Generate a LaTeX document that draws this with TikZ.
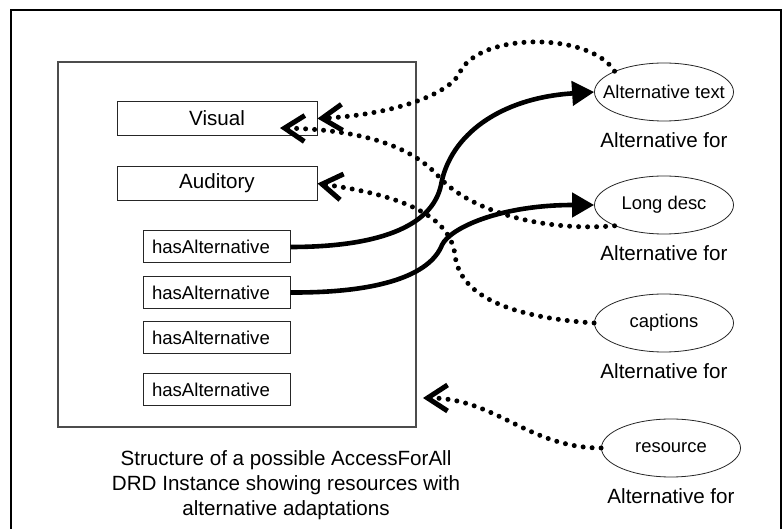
\documentclass[tikz,border=0pt]{standalone}
\usepackage{fontspec}
\setmainfont{Liberation Sans}
\usetikzlibrary{positioning}
\usetikzlibrary{shapes.geometric}
\usetikzlibrary{arrows.meta}

\begin{document}
\begin{tikzpicture}
  [ x=0.5pt, y=-0.5pt,
    cat/.style={draw=black!85, line width=0.5pt, minimum width=100pt,
      minimum height=17pt, inner sep=0pt, font=\fontsize{10.3}{12}\selectfont},
    has/.style={draw=black!85, line width=0.5pt, text width=64.5pt, inner xsep=4.5pt,
      inner ysep=0pt, minimum height=16pt, align=left, font=\fontsize{9.3}{11}\selectfont},
    alt/.style={ellipse, draw=black!85, line width=0.4pt, minimum width=69.5pt,
      minimum height=29pt, inner sep=0pt, font=\fontsize{9.2}{11}\selectfont},
    altfor/.style={inner sep=0pt, font=\fontsize{10.3}{12}\selectfont},
    link/.style={line width=2.3pt, -{Triangle[length=11pt,width=12pt]}},
    altref/.style={line width=2.5pt, line cap=round, dash pattern=on 0pt off 4.5pt,
      -{Straight Barb[length=10pt,width=13pt]}}
  ]
  \useasboundingbox (0,0) rectangle (784,529);
  \draw [line width=1pt] (11,529) |- (781,10) -- (781,529);

  \node (drd) at (237,244.5) [draw=black!70, line width=0.6pt,
    minimum width=179pt, minimum height=182.5pt] {};

  \node (visual)   at (217,118.5) [cat] {Visual};
  \node (auditory) at (217,183.5) [cat] {Auditory};

  \node (has1) at (216.5,247)   [has] {hasAlternative};
  \node (has2) at (216.5,292.5) [has] {hasAlternative};
  \node (has3) at (216.5,338)   [has] {hasAlternative};
  \node (has4) at (216.5,389.5) [has] {hasAlternative};

  \node (altxt)    at (664,92)  [alt] {\makebox[0pt]{Alternative text}};
  \node (longdesc) at (664,205) [alt] {\makebox[0pt]{Long desc}};
  \node (captions) at (664,323) [alt] {\makebox[0pt]{captions}};
  \node (resource) at (671,448) [alt] {\makebox[0pt]{resource}};

  \node (for1) [below=5.5pt of altxt, altfor]    {Alternative for};
  \node (for2) [below=5.5pt of longdesc, altfor] {Alternative for};
  \node (for3) [below=5.5pt of captions, altfor] {Alternative for};
  \node (for4) [below=5.5pt of resource, altfor] {Alternative for};

  \node (caption) at (286,485) [align=center, font=\fontsize{10.3}{12.5}\selectfont]
    {Structure of a possible AccessForAll\\DRD Instance showing resources with\\alternative adaptations};

  \coordinate (vin)  at (280,128);
  \coordinate (rtip) at (423,398);

  \draw [link] (has1.east) .. controls (375,247) and (432,228) .. (441,185)
    .. controls (450,135) and (500,98) .. (altxt.west);
  \draw [link] (has2.east) .. controls (380,293) and (430,275) .. (442,245)
    .. controls (450,228) and (500,205) .. (longdesc.west);

  \draw [altref] (altxt.north west) .. controls (590,32) and (480,32) .. (460,72)
    .. controls (450,95) and (390,115) .. (visual.east);
  \draw [altref] (longdesc.south west) .. controls (540,232) and (470,210) .. (440,178)
    .. controls (420,155) and (380,130) .. (vin);
  \draw [altref] (captions.west) .. controls (520,318) and (460,300) .. (455,255)
    .. controls (450,215) and (400,195) .. (auditory.east);
  \draw [altref] (resource.west) to[out=180,in=0] (rtip);
\end{tikzpicture}
\end{document}
